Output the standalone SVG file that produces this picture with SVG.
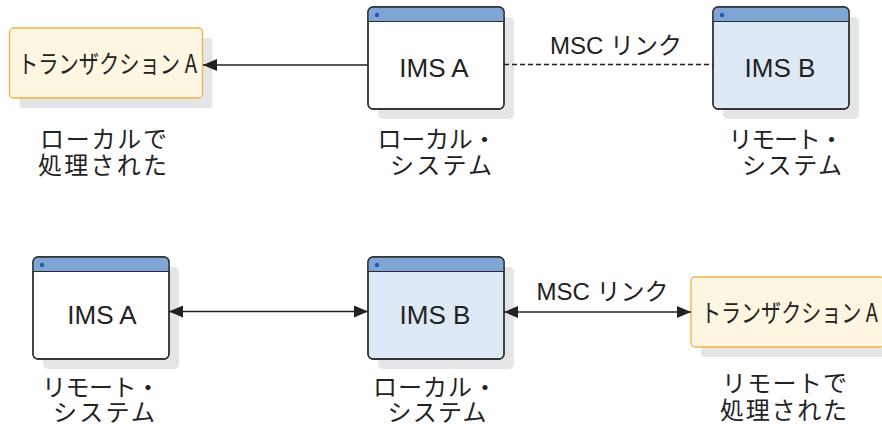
<svg xmlns="http://www.w3.org/2000/svg" width="882" height="424" viewBox="0 0 882 424">
<style>
.shadow{fill:#e4e5e7}
.win{fill:#ffffff;stroke:#2b2b2b;stroke-width:1.3}
.winb{fill:#dde9f5;stroke:#2b2b2b;stroke-width:1.3}
.hdr{fill:#7fa5d4}
.hline{stroke:#2b2b2b;stroke-width:1}
.dot{fill:#1f5bb0}
.trans{fill:#fdf6e1;stroke:#f0b44a;stroke-width:1.3}
.lat{font-family:"Liberation Sans",Arial,sans-serif;font-size:26px;fill:#222;text-anchor:middle}
.lnk{font-family:"Liberation Sans","Noto Sans CJK JP",sans-serif;font-size:24px;fill:#222;text-anchor:middle}
.jp{font-family:"Noto Sans CJK JP",sans-serif;font-size:24px;fill:#222;text-anchor:middle}
.tx{font-family:"Noto Sans CJK JP",sans-serif;font-size:25px;fill:#222;text-anchor:middle}
.conn{stroke:#222;stroke-width:1.3;fill:none}
.dash{stroke-dasharray:5,3}
</style>
<defs>
<marker id="ah" viewBox="0 0 14 12" refX="14" refY="6" markerWidth="14" markerHeight="12" markerUnits="userSpaceOnUse" orient="auto-start-reverse">
<path d="M0,0 L14,6 L0,12 Z" fill="#222"/>
</marker>
</defs>

<g id="transA-top">
<rect class="shadow" x="19.5" y="38" width="193" height="70" rx="4"/>
<rect class="trans" x="9.5" y="28" width="193" height="70" rx="4"/>
<text class="tx" x="107.5" y="73" textLength="179" lengthAdjust="spacingAndGlyphs">トランザクション A</text>
<text class="jp" x="103.5" y="148" textLength="127" lengthAdjust="spacing">ローカルで</text>
<text class="jp" x="102.5" y="174" textLength="129" lengthAdjust="spacing">処理された</text>
</g>

<g id="imsA-top">
<rect class="shadow" x="378" y="17" width="136" height="102" rx="5"/>
<rect class="win" x="368" y="7" width="136" height="102" rx="5"/>
<path class="hdr" d="M368,21.5 V12 A5,5 0 0 1 373,7 H499 A5,5 0 0 1 504,12 V21.5 Z"/>
<line class="hline" x1="368" y1="21.5" x2="504" y2="21.5"/>
<rect x="368" y="7" width="136" height="102" rx="5" fill="none" stroke="#2b2b2b" stroke-width="1.3"/>
<circle class="dot" cx="377" cy="15" r="2.2"/>
<text class="lat" x="434" y="77">IMS A</text>
<text class="jp" x="437" y="148" textLength="119" lengthAdjust="spacing">ローカル・</text>
<text class="jp" x="441" y="174" textLength="102" lengthAdjust="spacing">システム</text>
</g>

<g id="imsB-top">
<rect class="shadow" x="723" y="17" width="136" height="102" rx="5"/>
<rect class="winb" x="713" y="7" width="136" height="102" rx="5"/>
<path class="hdr" d="M713,21.5 V12 A5,5 0 0 1 718,7 H844 A5,5 0 0 1 849,12 V21.5 Z"/>
<line class="hline" x1="713" y1="21.5" x2="849" y2="21.5"/>
<rect x="713" y="7" width="136" height="102" rx="5" fill="none" stroke="#2b2b2b" stroke-width="1.3"/>
<circle class="dot" cx="722" cy="15" r="2.2"/>
<text class="lat" x="780" y="77">IMS B</text>
<text class="jp" x="786" y="148" textLength="115" lengthAdjust="spacing">リモート・</text>
<text class="jp" x="792" y="174" textLength="100" lengthAdjust="spacing">システム</text>
</g>

<g id="imsA-bottom">
<rect class="shadow" x="43" y="267" width="136" height="102" rx="5"/>
<rect class="win" x="33" y="257" width="136" height="102" rx="5"/>
<path class="hdr" d="M33,271.5 V262 A5,5 0 0 1 38,257 H164 A5,5 0 0 1 169,262 V271.5 Z"/>
<line class="hline" x1="33" y1="271.5" x2="169" y2="271.5"/>
<rect x="33" y="257" width="136" height="102" rx="5" fill="none" stroke="#2b2b2b" stroke-width="1.3"/>
<circle class="dot" cx="42" cy="265" r="2.2"/>
<text class="lat" x="102" y="324">IMS A</text>
<text class="jp" x="101" y="396" textLength="118" lengthAdjust="spacing">リモート・</text>
<text class="jp" x="104" y="421" textLength="102" lengthAdjust="spacing">システム</text>
</g>

<g id="imsB-bottom">
<rect class="shadow" x="378" y="267" width="136" height="102" rx="5"/>
<rect class="winb" x="368" y="257" width="136" height="102" rx="5"/>
<path class="hdr" d="M368,271.5 V262 A5,5 0 0 1 373,257 H499 A5,5 0 0 1 504,262 V271.5 Z"/>
<line class="hline" x1="368" y1="271.5" x2="504" y2="271.5"/>
<rect x="368" y="257" width="136" height="102" rx="5" fill="none" stroke="#2b2b2b" stroke-width="1.3"/>
<circle class="dot" cx="377" cy="265" r="2.2"/>
<text class="lat" x="435" y="324">IMS B</text>
<text class="jp" x="435" y="396" textLength="124" lengthAdjust="spacing">ローカル・</text>
<text class="jp" x="437" y="421" textLength="99" lengthAdjust="spacing">システム</text>
</g>

<g id="transA-bottom">
<rect class="shadow" x="701" y="287" width="193" height="70" rx="4"/>
<rect class="trans" x="691" y="277" width="193" height="70" rx="4"/>
<text class="tx" x="789.5" y="322" textLength="177" lengthAdjust="spacingAndGlyphs">トランザクション A</text>
<text class="jp" x="784.5" y="392" textLength="125" lengthAdjust="spacing">リモートで</text>
<text class="jp" x="783.5" y="419" textLength="127" lengthAdjust="spacing">処理された</text>
</g>

<g id="connectors">
<line class="conn" x1="368" y1="65" x2="203" y2="65" marker-end="url(#ah)"/>
<line class="conn dash" x1="504" y1="64.5" x2="713" y2="64.5"/>
<text class="lnk" x="616" y="54">MSC リンク</text>
<line class="conn" x1="169" y1="311.5" x2="368" y2="311.5" marker-start="url(#ah)" marker-end="url(#ah)"/>
<line class="conn" x1="504" y1="312" x2="691" y2="312" marker-start="url(#ah)" marker-end="url(#ah)"/>
<text class="lnk" x="602.5" y="300">MSC リンク</text>
</g>
</svg>
